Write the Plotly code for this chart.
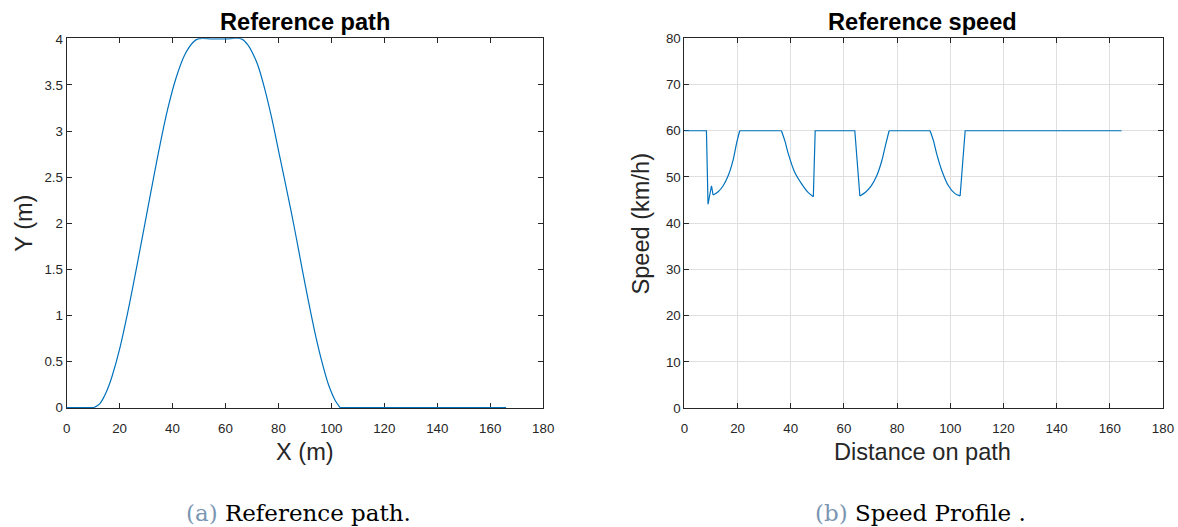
import plotly.graph_objects as go

# Reference path: lateral offset Y (m) against longitudinal position X (m)
path_x = [0, 5, 10.4, 12.5, 14.2, 16.0, 17.3, 19.9, 23.0, 25.5, 28.1, 30.4, 33.1,
          35.7, 38.2, 41.4, 44.5, 47.7, 49.6, 55, 60, 66.0, 68.6, 71.0, 72.4, 74.9,
          77.4, 80.6, 83.8, 86.3, 88.8, 91.3, 93.9, 96.4, 98.9, 101.4, 103.3, 120,
          140, 166]
path_y = [0, 0, 0, 0.04, 0.12, 0.24, 0.35, 0.62, 1.02, 1.38, 1.77, 2.12, 2.53,
          2.91, 3.24, 3.58, 3.82, 3.96, 4.0, 4.0, 4.0, 4.0, 3.93, 3.80, 3.70, 3.45,
          3.15, 2.71, 2.27, 1.91, 1.53, 1.16, 0.80, 0.50, 0.25, 0.08, 0, 0,
          0, 0]

# Reference speed (km/h) against distance travelled along the path
dist = [0, 8.3, 8.9, 10.2, 10.8, 12.7, 14.6, 16.5, 18.3, 19.6, 20.8, 36.5, 37.8,
        39.1, 41.5, 44.1, 46.6, 48.5, 49.2, 64.1, 66.0, 68.1, 70.2, 72.3, 74.2,
        75.7, 77.0, 92.4, 93.7, 94.9, 96.8, 99.3, 101.8, 103.7, 105.6, 164.4]
speed = [60, 60, 44.1, 48.1, 46.1, 46.8, 48.1, 50.3, 53.6, 57.2, 60, 60, 57.8,
         55.0, 51.0, 48.5, 46.6, 45.7, 60, 60, 45.9, 46.7, 48.0, 50.2, 53.4,
         57.0, 60, 60, 57.8, 55.0, 51.4, 48.1, 46.4, 45.9, 60, 60]

x_ticks = list(range(0, 181, 20))
path_yticks = [0, 0.5, 1, 1.5, 2, 2.5, 3, 3.5, 4]
path_ylabels = ["0", "0.5", "1", "1.5", "2", "2.5", "3", "3.5", "4"]
speed_yticks = list(range(0, 81, 10))

LINE = "#0072BD"
AX = "#262626"
SANS = "Liberation Sans, Arial, sans-serif"
SERIF = "DejaVu Serif, serif"

W, H = 1178, 527
# layout positions are written in screen pixels; the page shows the figure
# slightly shrunk and shifted, so each position is mapped back through that
SX, OX = 0.986, 3.5
SY, OY = 0.972, 6.7
FS = 1 / 0.975


def px(x):
    return ((x - OX) / SX) / W


def py(y):
    return 1 - ((y - OY) / SY) / H


TICKFONT = dict(family=SANS, size=13 * FS, color=AX)


def add_segments(xs, ys, curved, straight, xa, ya):
    """Draw a polyline as straight pieces plus smoothly splined arcs."""
    for a, b in straight:
        fig.add_trace(go.Scatter(x=xs[a:b + 1], y=ys[a:b + 1], mode="lines",
                                 line=dict(color=LINE, width=1.2),
                                 xaxis=xa, yaxis=ya, showlegend=False))
    for a, b in curved:
        fig.add_trace(go.Scatter(x=xs[a:b + 1], y=ys[a:b + 1], mode="lines",
                                 line=dict(color=LINE, width=1.2, shape="spline",
                                           smoothing=0.9),
                                 xaxis=xa, yaxis=ya, showlegend=False))


fig = go.Figure()

# lane-change path: flat approach, smooth S-curve out and back, flat exit
add_segments(path_x, path_y, curved=[(2, 36)], straight=[(0, 2), (36, len(path_x) - 1)],
             xa="x", ya="y")

# speed profile: smooth recovery/braking arcs, straight jumps and cruise segments
add_segments(dist, speed,
             curved=[(4, 10), (11, 17), (20, 26), (27, 33)],
             straight=[(0, 4), (10, 11), (17, 20), (26, 27), (33, 35)],
             xa="x2", ya="y2")

y_dom = [py(408), py(38)]
common = dict(showline=True, linecolor=AX, linewidth=1, mirror="ticks",
              ticks="inside", ticklen=5, tickcolor=AX, tickwidth=1,
              tickfont=TICKFONT, zeroline=False, layer="below traces")

fig.update_layout(
    width=W, height=H,
    margin=dict(l=0, r=0, t=0, b=0),
    paper_bgcolor="white", plot_bgcolor="white",
    xaxis=dict(domain=[px(66), px(542)], range=[0, 180], tickvals=x_ticks,
               showgrid=False, anchor="y", ticklabelstandoff=8, **common),
    yaxis=dict(domain=y_dom, range=[-0.006, 4.006], tickvals=path_yticks,
               ticktext=path_ylabels, showgrid=False, anchor="x", **common),
    xaxis2=dict(domain=[px(683), px(1161)], range=[0, 180], tickvals=x_ticks,
                showgrid=True, gridcolor="#dfdfdf", gridwidth=1, anchor="y2",
                ticklabelstandoff=8, **common),
    yaxis2=dict(domain=y_dom, range=[0, 80], tickvals=speed_yticks,
                showgrid=True, gridcolor="#dfdfdf", gridwidth=1, anchor="x2", **common),
)

ann = [
    dict(x=px(304), y=py(22), text="<b>Reference path</b>",
         font=dict(family=SANS, size=23 * FS, color="black")),
    dict(x=px(921), y=py(22), text="<b>Reference speed</b>",
         font=dict(family=SANS, size=23 * FS, color="black")),
    dict(x=px(304), y=py(452), text="X (m)",
         font=dict(family=SANS, size=23 * FS, color=AX)),
    dict(x=px(921), y=py(452), text="Distance on path",
         font=dict(family=SANS, size=23 * FS, color=AX)),
    dict(x=px(24), y=py(223), text="Y (m)", textangle=-90,
         font=dict(family=SANS, size=23 * FS, color=AX)),
    dict(x=px(640), y=py(223), text="Speed (km/h)", textangle=-90,
         font=dict(family=SANS, size=23 * FS, color=AX)),
    dict(x=px(298), y=py(513),
         text="<span style='color:#7b96b2'>(a)</span> Reference path.",
         font=dict(family=SERIF, size=22.4 * FS, color="black")),
    dict(x=px(919), y=py(513),
         text="<span style='color:#7b96b2'>(b)</span> Speed Profile .",
         font=dict(family=SERIF, size=22.4 * FS, color="black")),
]
for a in ann:
    a.update(xref="paper", yref="paper", showarrow=False, xanchor="center", yanchor="middle")
fig.update_layout(annotations=ann)

fig.write_html("out.html")
